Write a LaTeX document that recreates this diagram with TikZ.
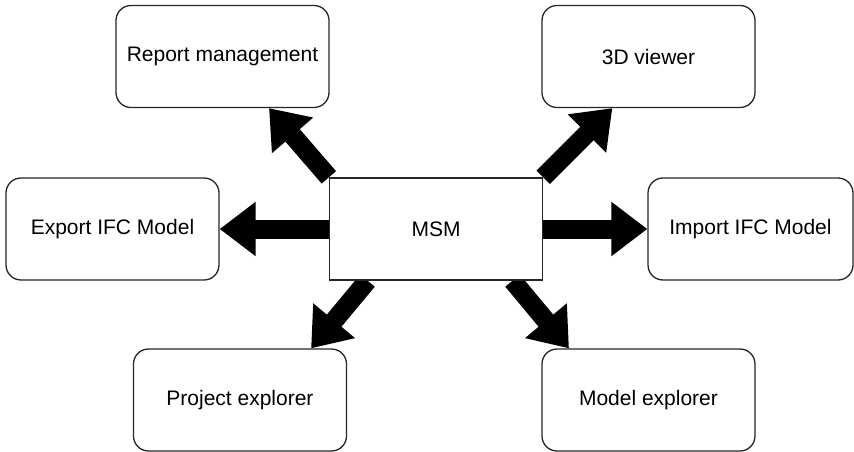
\documentclass[tikz,border=0pt]{standalone}
\usepackage{fontspec}
\setmainfont{Liberation Sans}
\usetikzlibrary{arrows.meta,backgrounds}
\begin{document}
\begin{tikzpicture}[x=1pt,y=-1pt,
    box/.style={draw=black!85,line width=1.3pt,rounded corners=15pt,fill=white,
      minimum width=213pt,minimum height=102pt,inner sep=0pt,
      font=\fontsize{21}{25}\selectfont},
    mainbox/.style={box,sharp corners},
    bigarrow/.style={line width=19pt,-{Triangle[width=52pt,length=36pt]}}]
\useasboundingbox (0,0) rectangle (854,452);
\node[mainbox] (msm) at (436,229) {MSM};
\node[box] (report) at (222.5,56.5) {Report management};
\node[box] (viewer) at (648.5,56.5) {3D viewer};
\node[box] (export) at (112.5,229) {Export IFC Model};
\node[box,minimum width=205pt] (import) at (750.5,229) {Import IFC Model};
\node[box] (project) at (240,400) {Project explorer};
\node[box] (model) at (648.5,400) {Model explorer};
\begin{scope}[on background layer]
\draw[bigarrow] (msm.north west) -- (report.-48);
\draw[bigarrow] (msm.north east) -- (viewer.235);
\draw[bigarrow] (msm.west) -- (export.east);
\draw[bigarrow] (msm.east) -- (import.west);
\draw[bigarrow] (msm.217) -- (project.36);
\draw[bigarrow] (msm.-34.5) -- (model.147);
\end{scope}
\end{tikzpicture}
\end{document}
